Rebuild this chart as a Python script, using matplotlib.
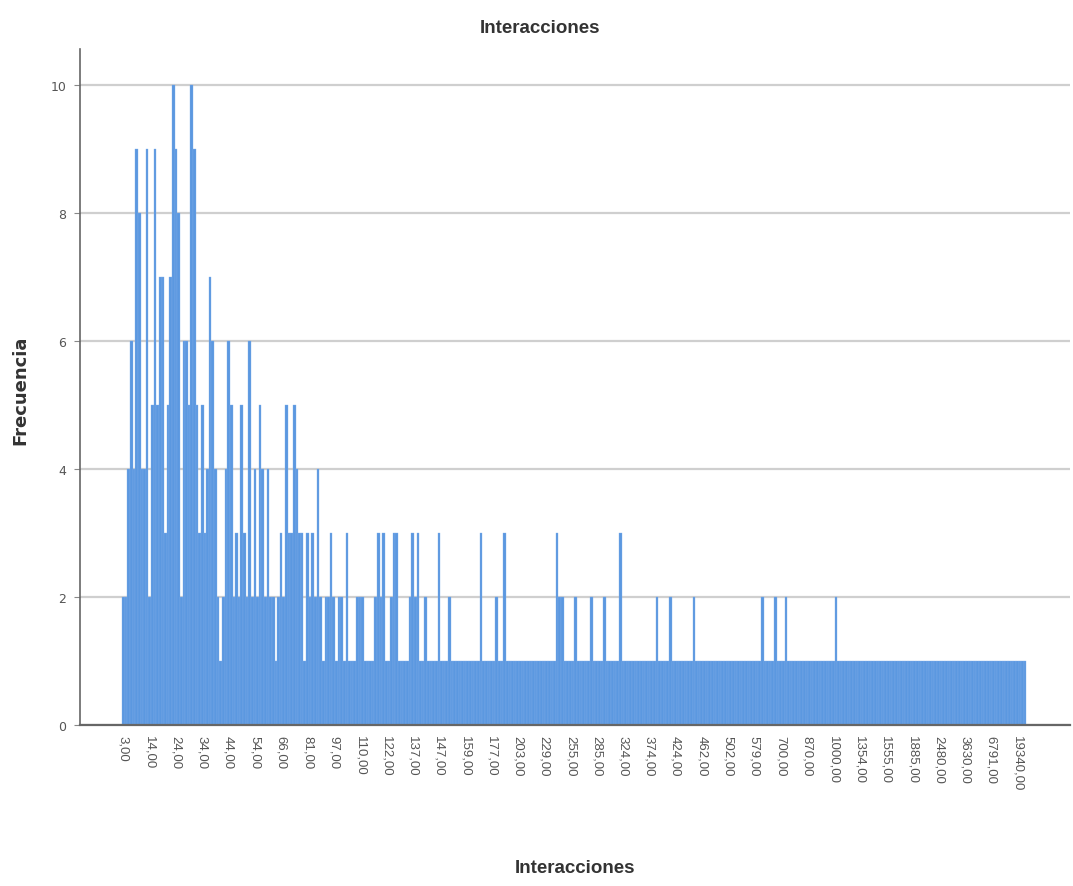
import matplotlib
matplotlib.use("Agg")
import matplotlib.pyplot as plt
import numpy as np

# Frequency of each distinct "Interacciones" value, in category order
freq = [
    2, 2, 4, 6, 4, 9, 8, 4, 4, 9,
    2, 5, 9, 5, 7, 7, 3, 5, 7, 10,
    9, 8, 2, 6, 6, 5, 10, 9, 5, 3,
    5, 3, 4, 7, 6, 4, 2, 1, 2, 4,
    6, 5, 2, 3, 2, 5, 3, 2, 6, 2,
    4, 2, 5, 4, 2, 4, 2, 2, 1, 2,
    3, 2, 5, 3, 3, 5, 4, 3, 3, 1,
    3, 2, 3, 2, 4, 2, 1, 2, 2, 3,
    2, 1, 2, 2, 1, 3, 1, 1, 1, 2,
    2, 2, 1, 1, 1, 1, 2, 3, 2, 3,
    1, 1, 2, 3, 3, 1, 1, 1, 1, 2,
    3, 2, 3, 1, 1, 2, 1, 1, 1, 1,
    3, 1, 1, 1, 2, 1, 1, 1, 1, 1,
    1, 1, 1, 1, 1, 1, 3, 1, 1, 1,
    1, 1, 2, 1, 1, 3, 1, 1, 1, 1,
    1, 1, 1, 1, 1, 1, 1, 1, 1, 1,
    1, 1, 1, 1, 1, 3, 2, 2, 1, 1,
    1, 1, 2, 1, 1, 1, 1, 1, 2, 1,
    1, 1, 1, 2, 1, 1, 1, 1, 1, 3,
    1, 1, 1, 1, 1, 1, 1, 1, 1, 1,
    1, 1, 1, 2, 1, 1, 1, 1, 2, 1,
    1, 1, 1, 1, 1, 1, 1, 2, 1, 1,
    1, 1, 1, 1, 1, 1, 1, 1, 1, 1,
    1, 1, 1, 1, 1, 1, 1, 1, 1, 1,
    1, 1, 1, 2, 1, 1, 1, 1, 2, 1,
    1, 1, 2, 1, 1, 1, 1, 1, 1, 1,
    1, 1, 1, 1, 1, 1, 1, 1, 1, 1,
    1, 2, 1, 1, 1, 1, 1, 1, 1, 1,
    1, 1, 1, 1, 1, 1, 1, 1, 1, 1,
    1, 1, 1, 1, 1, 1, 1, 1, 1, 1,
    1, 1, 1, 1, 1, 1, 1, 1, 1, 1,
    1, 1, 1, 1, 1, 1, 1, 1, 1, 1,
    1, 1, 1, 1, 1, 1, 1, 1, 1, 1,
    1, 1, 1, 1, 1, 1, 1, 1, 1, 1,
    1, 1, 1, 1,
]

# Only every 10th category gets a label on the axis
tick_step = 10
tick_labels = [
    "3,00", "14,00", "24,00", "34,00", "44,00", "54,00", "66,00", "81,00",
    "97,00", "110,00", "122,00", "137,00", "147,00", "159,00", "177,00",
    "203,00", "229,00", "255,00", "285,00", "324,00", "374,00", "424,00",
    "462,00", "502,00", "579,00", "700,00", "870,00", "1000,00", "1354,00",
    "1555,00", "1885,00", "2480,00", "3630,00", "6791,00", "19340,00",
]
y_ticks = [0, 2, 4, 6, 8, 10]

bar_color = "#5b98e0"
grid_color = "#cfcfcf"
text_color = "#333333"
narrow = ["Liberation Sans Narrow", "Liberation Sans", "DejaVu Sans"]

fig = plt.figure(figsize=(10.73, 8.87), dpi=100)
ax = fig.add_axes([0.0746, 0.1815, 0.9224, 0.762])

pos = np.arange(len(freq))
ax.bar(pos, freq, width=1.0, color=bar_color, edgecolor="#7eaeea",
       linewidth=0.25, zorder=2)

ax.set_xlim(-16.5, 360)
ax.set_ylim(0, 10.56)

# horizontal reference lines
ax.set_yticks(y_ticks)
ax.set_yticklabels([str(v) for v in y_ticks])
ax.yaxis.grid(True, color=grid_color, linewidth=1.6, zorder=1)
ax.xaxis.grid(False)

ax.set_xticks(pos[::tick_step][:len(tick_labels)])
ax.set_xticklabels(tick_labels, rotation=270, fontsize=9.5, color="#555555",
                   family=narrow)
ax.tick_params(axis="x", length=0, pad=7)
ax.tick_params(axis="y", length=4, color="#888888", labelsize=9,
               labelcolor="#555555", pad=6)

for side in ["top", "right"]:
    ax.spines[side].set_visible(False)
ax.spines["left"].set_color("#666666")
ax.spines["bottom"].set_color("#666666")
ax.spines["left"].set_linewidth(1.2)
ax.spines["bottom"].set_linewidth(1.6)

fig.text(0.503, 0.968, "Interacciones", ha="center", va="center",
         fontsize=13.5, fontweight="bold", color=text_color, family=narrow)
fig.text(0.536, 0.021, "Interacciones", ha="center", va="center",
         fontsize=13.5, fontweight="bold", color=text_color, family=narrow)
fig.text(0.019, 0.56, "Frecuencia", ha="center", va="center", rotation=90,
         fontsize=13, fontweight="bold", color=text_color)

fig.savefig("out.png", dpi=100)
